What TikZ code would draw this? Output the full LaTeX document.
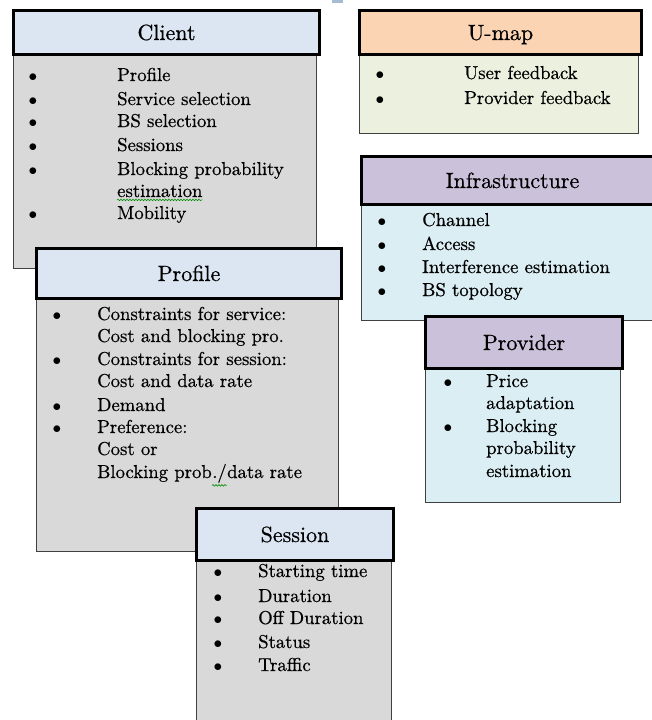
\documentclass[tikz,border=0pt]{standalone}
\usepackage{fontspec}
\newfontfamily\lmd{lmroman10-regular.otf}[FakeBold=0.6]
\usetikzlibrary{decorations.pathmorphing}
\definecolor{hblue}{HTML}{DCE6F2}
\definecolor{bgray}{HTML}{D9D9D9}
\definecolor{hpeach}{HTML}{FBD4B4}
\definecolor{bgreen}{HTML}{EBF1DE}
\definecolor{hlav}{HTML}{CCC1DA}
\definecolor{bcyan}{HTML}{DBEEF4}
\definecolor{edgegray}{HTML}{404040}
\definecolor{speck}{HTML}{A7BCD3}
\begin{document}
\begin{tikzpicture}[x=1pt,y=-1pt,
 hdr/.style={draw=black, line width=3pt, anchor=north west, inner sep=0pt, font=\lmd\fontsize{22}{26}\selectfont, text height=15pt, text depth=0pt},
 bodybox/.style={draw=edgegray, line width=1pt, anchor=north west, inner sep=0pt},
 itm/.style={anchor=base west, inner sep=0pt, font=\lmd\fontsize{18.7}{22}\selectfont},
 bul/.style={anchor=base, inner sep=0pt, font=\lmd\fontsize{18.7}{22}\selectfont},
 squig/.style={draw=green!55!black, line width=0.6pt, decorate, decoration={snake, amplitude=0.8pt, segment length=3pt}}
]
\useasboundingbox (0,0) rectangle (652,720);
\clip (0,0) rectangle (652,720);
\fill[speck] (332,0) rectangle (343,3);

% ---------- Client ----------
\node[bodybox, fill=bgray, minimum width=303pt, minimum height=215pt] (clientB) at (13,53) {};
\node[hdr, fill=hblue, minimum width=306pt, minimum height=44pt] (clientH) at (12,9) {Client};
\foreach \n/\y/\t in {c1/81/Profile, c2/105/Service selection, c3/127/BS selection, c4/151/Sessions, c5/175/Blocking probability, c7/219/Mobility}{
  \node[bul] (\n b) at (33,\y) {$\bullet$};
  \node[itm] (\n) at (117,\y) {\t};
}
\node[itm] (c6) at (117,197) {estimation};
\draw[squig] ([yshift=-2.5pt]c6.south west) -- ([yshift=-2.5pt]c6.south east);

% ---------- U-map ----------
\node[bodybox, fill=bgreen, minimum width=279pt, minimum height=80pt] (umapB) at (359,53) {};
\node[hdr, fill=hpeach, minimum width=282pt, minimum height=44pt] (umapH) at (358,9) {U-map};
\foreach \n/\y/\t in {u1/79/User feedback, u2/104/Provider feedback}{
  \node[bul] (\n b) at (380,\y) {$\bullet$};
  \node[itm] (\n) at (464,\y) {\t};
}

% ---------- Infrastructure ----------
\node[bodybox, fill=bcyan, minimum width=300pt, minimum height=117pt] (infB) at (361,203) {};
\node[hdr, fill=hlav, minimum width=302pt, minimum height=48pt] (infH) at (360,155) {Infrastructure};
\foreach \n/\y/\t in {i1/226/Channel, i2/250/Access, i3/273/Interference estimation, i4/296/BS topology}{
  \node[bul] (\n b) at (382,\y) {$\bullet$};
  \node[itm] (\n) at (422,\y) {\t};
}

% ---------- Provider ----------
\node[bodybox, fill=bcyan, minimum width=195pt, minimum height=135pt] (provB) at (425,367) {};
\node[hdr, fill=hlav, minimum width=197pt, minimum height=52pt] (provH) at (424,315) {Provider};
\foreach \n/\y in {v1/387, v3/432}{
  \node[bul] (\n b) at (448,\y) {$\bullet$};
}
\node[itm] (v1) at (486,387) {Price};
\node[itm] (v2) at (486,409) {adaptation};
\node[itm] (v3) at (486,432) {Blocking};
\node[itm] (v4) at (486,454) {probability};
\node[itm] (v5) at (486,477) {estimation};

% ---------- Profile ----------
\node[bodybox, fill=bgray, minimum width=302pt, minimum height=254pt] (profB) at (36,297) {};
\node[hdr, fill=hblue, minimum width=305pt, minimum height=50pt] (profH) at (35,247) {Profile};
\foreach \n/\y in {p1/320, p3/365, p5/411, p6/433}{
  \node[bul] (\n b) at (57,\y) {$\bullet$};
}
\node[itm] (p1) at (97,320) {Constraints for service:};
\node[itm] (p2) at (97,342) {Cost and blocking pro.};
\node[itm] (p3) at (97,365) {Constraints for session:};
\node[itm] (p4) at (97,387) {Cost and data rate};
\node[itm] (p5) at (97,411) {Demand};
\node[itm] (p6) at (97,433) {Preference:};
\node[itm] (p7) at (97,455) {Cost or};
\node[itm] (p8a) at (97,478) {Blocking prob};
\node[itm] (p8b) at (p8a.base east) {./};
\node[itm] (p8c) at (p8b.base east) {data rate};
\draw[squig] ([yshift=-2.5pt]p8b.south west) -- ([yshift=-2.5pt]p8b.south east);

% ---------- Session ----------
\node[bodybox, fill=bgray, minimum width=195pt, minimum height=175pt] (sessB) at (196,559) {};
\node[hdr, fill=hblue, minimum width=197pt, minimum height=52pt] (sessH) at (195,507) {Session};
\foreach \n/\y/\t in {s1/577/Starting time, s2/602/Duration, s3/624/Off Duration, s4/648/Status, s5/671/Traffic}{
  \node[bul] (\n b) at (218,\y) {$\bullet$};
  \node[itm] (\n) at (258,\y) {\t};
}
\end{tikzpicture}
\end{document}
